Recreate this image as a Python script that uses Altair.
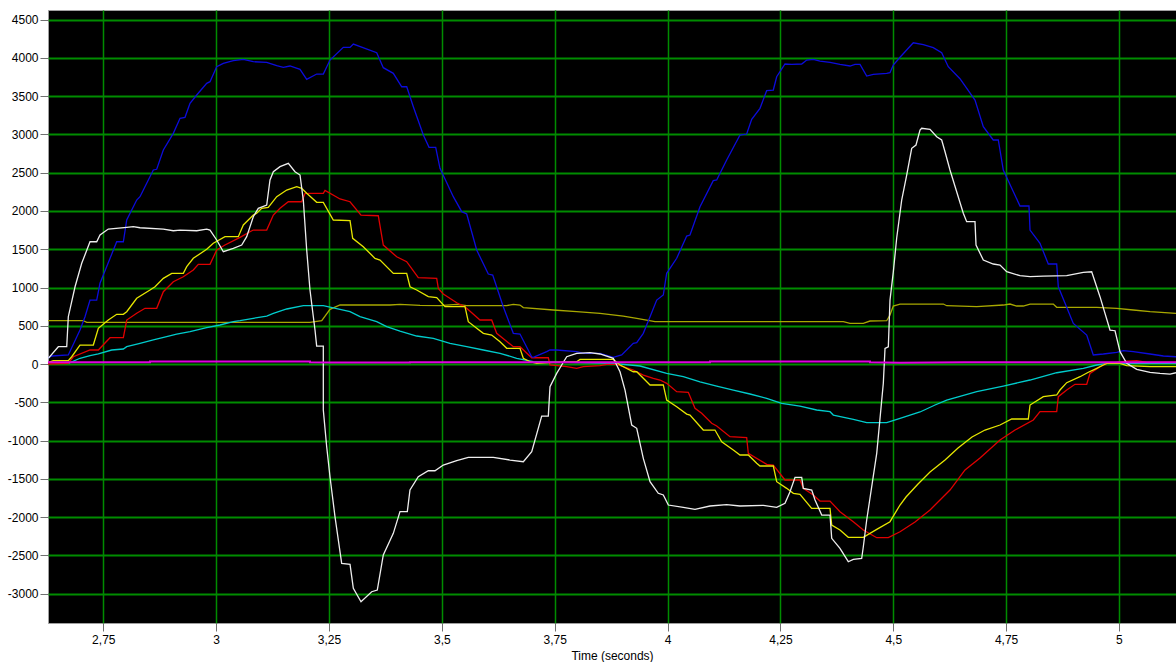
import altair as alt
import pandas as pd

X_TICKS = [2.75, 3.0, 3.25, 3.5, 3.75, 4.0, 4.25, 4.5, 4.75, 5.0]
Y_TICKS = list(range(-3000, 4501, 500))
X_DOMAIN = [2.6275, 5.1264]
Y_DOMAIN = [-3385, 4627]

OLIVE = [(2.6275, 566), (2.7057, 566), (2.7133, 545), (3.2079, 545), (3.2339, 566), (3.2522, 715),
         (3.2744, 771), (3.3852, 771), (3.4073, 780), (3.4516, 767), (3.4959, 763), (3.5329, 780),
         (3.5551, 763), (3.6437, 763), (3.6583, 780), (3.6731, 771), (3.6805, 737), (3.7470, 706),
         (3.7987, 684), (3.8504, 662), (3.9020, 627), (3.9317, 597), (3.9722, 553), (4.3894, 553),
         (4.4042, 532), (4.4337, 532), (4.4485, 562), (4.4855, 566), (4.4928, 641), (4.5001, 758),
         (4.5150, 784), (4.6110, 784), (4.6184, 762), (4.6849, 749), (4.7438, 771), (4.7586, 784),
         (4.7734, 758), (4.7881, 758), (4.8030, 784), (4.8546, 784), (4.8621, 741), (4.9507, 741),
         (4.9951, 728), (5.0319, 706), (5.0689, 684), (5.1264, 662)]

CYAN = [(2.6725, 9), (2.6984, 75), (2.7206, 109), (2.7390, 131), (2.7686, 183), (2.7944, 196),
        (2.8019, 226), (2.8313, 271), (2.8608, 314), (2.8904, 357), (2.9126, 392), (2.9421, 422),
        (2.9791, 475), (3.0086, 510), (3.0380, 553), (3.0529, 566), (3.0823, 597), (3.1120, 627),
        (3.1267, 662), (3.1563, 719), (3.1932, 762), (3.2374, 762), (3.2744, 715), (3.2966, 684),
        (3.3187, 619), (3.3557, 553), (3.3778, 488), (3.4073, 431), (3.4442, 366), (3.4811, 336),
        (3.5181, 270), (3.5551, 226), (3.5919, 183), (3.6289, 140), (3.6658, 75), (3.7026, 30),
        (3.8798, 9), (3.9390, -26), (3.9981, -122), (4.0349, -166), (4.0719, -232), (4.1089, -288),
        (4.1457, -340), (4.1826, -392), (4.2196, -449), (4.2528, -514), (4.2934, -549), (4.3304, -601),
        (4.3599, -623), (4.3673, -667), (4.4116, -723), (4.4412, -767), (4.4855, -767), (4.5150, -710),
        (4.5593, -627), (4.5926, -536), (4.6184, -471), (4.6849, -362), (4.7438, -288), (4.8030, -209),
        (4.8621, -114), (4.9211, -56), (4.9507, -13), (4.9729, 9), (5.0024, 9), (5.1264, 10)]

RED = [(2.6275, 0), (2.6725, 9), (2.6836, 95), (2.7206, 183), (2.7390, 183), (2.7649, 344),
       (2.7944, 344), (2.8019, 575), (2.8240, 663), (2.8424, 728), (2.8683, 728), (2.8830, 945),
       (2.9051, 1076), (2.9273, 1141), (2.9494, 1229), (2.9605, 1303), (2.9864, 1303), (3.0012, 1490),
       (3.0196, 1555), (3.0529, 1656), (3.0750, 1729), (3.0823, 1751), (3.1120, 1751), (3.1267, 1947),
       (3.1415, 2035), (3.1599, 2121), (3.1895, 2121), (3.1969, 2230), (3.2374, 2230), (3.2412, 2268),
       (3.2744, 2157), (3.2966, 2121), (3.3209, 1947), (3.3592, 1938), (3.3703, 1555), (3.4000, 1402),
       (3.4221, 1337), (3.4478, 1128), (3.4886, 1120), (3.4922, 989), (3.5032, 915), (3.5329, 801),
       (3.5513, 749), (3.5845, 575), (3.6104, 575), (3.6215, 401), (3.6399, 314), (3.6583, 226),
       (3.6731, 226), (3.6990, 82), (3.7359, 82), (3.7396, -13), (3.7766, -35), (3.7987, -56),
       (3.8134, -35), (3.8504, -22), (3.8652, -4), (3.8874, -4), (3.9241, -78), (3.9463, -144),
       (3.9685, -187), (3.9833, -209), (3.9981, -252), (4.0203, -362), (4.0460, -370), (4.0608, -579),
       (4.0756, -644), (4.0978, -775), (4.1089, -810), (4.1383, -950), (4.1753, -963), (4.1789, -1167),
       (4.2196, -1311), (4.2343, -1320), (4.2602, -1516), (4.2934, -1516), (4.3008, -1625),
       (4.3229, -1712), (4.3377, -1791), (4.3599, -1791), (4.3820, -1930), (4.4115, -2061),
       (4.4337, -2170), (4.4634, -2270), (4.4891, -2270), (4.5150, -2192), (4.5482, -2065),
       (4.5815, -1908), (4.6036, -1778), (4.6257, -1647), (4.6590, -1385), (4.6922, -1229),
       (4.7365, -993), (4.7698, -863), (4.8103, -732), (4.8251, -623), (4.8621, -623), (4.8657, -427),
       (4.8843, -340), (4.9027, -265), (4.9286, -265), (4.9359, -122), (4.9580, -35), (4.9729, 9),
       (4.9951, 22), (5.0172, 39), (5.0394, 43), (5.0616, 22), (5.1264, 22)]

YELLOW = [(2.6282, 22), (2.6393, 43), (2.6725, 43), (2.6800, 95), (2.6984, 248), (2.7279, 248),
          (2.7390, 467), (2.7611, 575), (2.7797, 650), (2.7944, 650), (2.8019, 684), (2.8240, 859),
          (2.8535, 967), (2.8646, 1010), (2.8830, 1120), (2.9016, 1185), (2.9273, 1185), (2.9348, 1272),
          (2.9494, 1382), (2.9791, 1499), (2.9937, 1578), (3.0196, 1664), (3.0491, 1664), (3.0602, 1817),
          (3.0823, 1947), (3.0898, 1970), (3.1009, 2035), (3.1155, 2048), (3.1342, 2187), (3.1563, 2274),
          (3.1785, 2317), (3.1895, 2296), (3.2006, 2231), (3.2228, 2113), (3.2374, 2113), (3.2596, 1882),
          (3.2966, 1873), (3.3025, 1643), (3.3260, 1533), (3.3519, 1381), (3.3630, 1359), (3.3925, 1185),
          (3.4221, 1185), (3.4295, 1010), (3.4443, 967), (3.4700, 880), (3.4886, 867), (3.5070, 749),
          (3.5513, 749), (3.5586, 553), (3.5772, 467), (3.5919, 401), (3.6104, 379), (3.6289, 291),
          (3.6437, 205), (3.6731, 205), (3.6805, 75), (3.6953, 30), (3.7101, 9), (3.7463, 22),
          (3.7987, 30), (3.8061, 61), (3.8798, 61), (3.8947, -13), (3.9241, -101), (3.9317, -101),
          (3.9463, -187), (3.9612, -274), (3.9906, -274), (3.9981, -471), (4.0203, -558), (4.0424, -654),
          (4.0497, -667), (4.0792, -863), (4.1051, -863), (4.1200, -1016), (4.1457, -1124), (4.1605, -1189),
          (4.1789, -1189), (4.1975, -1298), (4.2048, -1333), (4.2343, -1333), (4.2418, -1538),
          (4.2640, -1625), (4.2787, -1690), (4.2934, -1703), (4.3193, -1886), (4.3599, -1886),
          (4.3637, -2104), (4.3820, -2170), (4.4004, -2265), (4.4337, -2265), (4.4634, -2161),
          (4.4928, -2061), (4.5150, -1843), (4.5283, -1738), (4.5549, -1568), (4.5815, -1412),
          (4.6147, -1255), (4.6435, -1098), (4.6745, -954), (4.7033, -863), (4.7365, -797), (4.7624, -719),
          (4.7992, -719), (4.8030, -536), (4.8325, -427), (4.8621, -405), (4.8694, -340), (4.8843, -244),
          (4.9138, -166), (4.9322, -108), (4.9508, -56), (4.9654, -13), (4.9729, 9), (5.0024, 9),
          (5.0172, -20), (5.0689, -35), (5.1264, -35)]

BLUE = [(2.6275, 78), (2.6364, 105), (2.6725, 118), (2.6984, 444), (2.7095, 618), (2.7206, 836),
        (2.7354, 836), (2.7427, 1055), (2.7797, 1598), (2.7944, 1598), (2.8019, 1882), (2.8240, 2143),
        (2.8313, 2187), (2.8387, 2274), (2.8608, 2536), (2.8683, 2545), (2.8830, 2797), (2.9051, 3015),
        (2.9200, 3211), (2.9310, 3224), (2.9421, 3407), (2.9569, 3516), (2.9791, 3669), (2.9864, 3690),
        (3.0012, 3886), (3.0159, 3930), (3.0380, 3964), (3.0602, 3982), (3.0823, 3951), (3.1120, 3943),
        (3.1342, 3899), (3.1488, 3878), (3.1636, 3895), (3.1858, 3852), (3.2006, 3721), (3.2228, 3790),
        (3.2374, 3790), (3.2522, 3973), (3.2817, 4139), (3.2966, 4139), (3.3039, 4182), (3.3557, 4069),
        (3.3703, 3873), (3.3925, 3799), (3.4111, 3624), (3.4222, 3624), (3.4368, 3363), (3.4590, 2993),
        (3.4716, 2832), (3.4864, 2832), (3.4959, 2558), (3.5254, 2187), (3.5440, 1991), (3.5551, 1961),
        (3.5772, 1490), (3.6029, 1176), (3.6127, 1163), (3.6361, 749), (3.6583, 401), (3.6731, 392),
        (3.6990, 95), (3.7026, 88), (3.7323, 161), (3.7396, 183), (3.7544, 183), (3.7987, 161),
        (3.8134, 140), (3.8504, 140), (3.8798, 88), (3.8984, 118), (3.9241, 271), (3.9317, 278),
        (3.9463, 401), (3.9612, 618), (3.9760, 836), (3.9906, 902), (3.9981, 1185), (4.0203, 1382),
        (4.0424, 1673), (4.0497, 1686), (4.0719, 2056), (4.1013, 2396), (4.1089, 2405), (4.1310, 2666),
        (4.1605, 2993), (4.1753, 3006), (4.1864, 3198), (4.2048, 3342), (4.2196, 3572), (4.2343, 3581),
        (4.2418, 3755), (4.2602, 3921), (4.2750, 3917), (4.2972, 3921), (4.3083, 3973), (4.3229, 3982),
        (4.3377, 3960), (4.3599, 3943), (4.3820, 3917), (4.4042, 3895), (4.4153, 3917), (4.4264, 3917),
        (4.4412, 3764), (4.4558, 3786), (4.4855, 3799), (4.4928, 3807), (4.5001, 3908), (4.5150, 4009),
        (4.5444, 4199), (4.5666, 4173), (4.5887, 4134), (4.6073, 4069), (4.6219, 3886), (4.6478, 3729),
        (4.6811, 3450), (4.6995, 3102), (4.7216, 2928), (4.7327, 2928), (4.7438, 2536), (4.7808, 2065),
        (4.8007, 2065), (4.8030, 1751), (4.8251, 1578), (4.8435, 1307), (4.8621, 1307), (4.8657, 1010),
        (4.8989, 531), (4.9286, 379), (4.9432, 118), (4.9654, 131), (4.9951, 153), (5.0097, 174),
        (5.0319, 161), (5.0689, 131), (5.0984, 105), (5.1264, 95)]

WHITE = [(2.6282, 75), (2.6504, 226), (2.6690, 226), (2.6725, 618), (2.6874, 1010), (2.7022, 1316),
         (2.7206, 1598), (2.7354, 1598), (2.7427, 1686), (2.7611, 1764), (2.8019, 1787), (2.8165, 1795),
         (2.8313, 1781), (2.8830, 1764), (2.9051, 1742), (2.9200, 1751), (2.9569, 1742), (2.9791, 1764),
         (2.9864, 1751), (3.0012, 1621), (3.0159, 1468), (3.0380, 1512), (3.0566, 1555), (3.0677, 1664),
         (3.0823, 1925), (3.0934, 2035), (3.1120, 2078), (3.1193, 2405), (3.1267, 2513), (3.1415, 2579),
         (3.1599, 2623), (3.1747, 2513), (3.1858, 2470), (3.1931, 2143), (3.2006, 1490), (3.2079, 967),
         (3.2153, 618), (3.2190, 444), (3.2227, 235), (3.2374, 235), (3.2374, -601), (3.2449, -1081),
         (3.2522, -1473), (3.2633, -1996), (3.2781, -2605), (3.2966, -2618), (3.3039, -2932),
         (3.3209, -3107), (3.3446, -2976), (3.3570, -2954), (3.3703, -2496), (3.3925, -2213),
         (3.4073, -1930), (3.4235, -1930), (3.4294, -1647), (3.4478, -1473), (3.4700, -1395),
         (3.4848, -1395), (3.5032, -1320), (3.5329, -1264), (3.5586, -1219), (3.6140, -1219),
         (3.6510, -1255), (3.6805, -1277), (3.6991, -1146), (3.7212, -680), (3.7359, -680),
         (3.7396, -297), (3.7544, -122), (3.7655, -13), (3.7766, 95), (3.7987, 140), (3.8282, 148),
         (3.8504, 131), (3.8798, 75), (3.8947, -101), (3.9058, -340), (3.9206, -797), (3.9317, -840),
         (3.9463, -1233), (3.9612, -1538), (3.9795, -1690), (3.9906, -1712), (4.0017, -1843),
         (4.0349, -1873), (4.0608, -1899), (4.0941, -1856), (4.1310, -1839), (4.1605, -1856),
         (4.2121, -1847), (4.2418, -1873), (4.2602, -1821), (4.2713, -1669), (4.2824, -1481),
         (4.2972, -1481), (4.3008, -1625), (4.3194, -1647), (4.3267, -1778), (4.3416, -1974),
         (4.3599, -1974), (4.3637, -2278), (4.3820, -2409), (4.4004, -2584), (4.4115, -2553),
         (4.4301, -2540), (4.4337, -2388), (4.4412, -2039), (4.4634, -1167), (4.4780, -252),
         (4.4818, 205), (4.4891, 226), (4.4928, 836), (4.5001, 1200), (4.5077, 1650), (4.5187, 2143),
         (4.5298, 2470), (4.5409, 2819), (4.5504, 2862), (4.5593, 3058), (4.5630, 3081), (4.5814, 3068),
         (4.5963, 2971), (4.6073, 2928), (4.6147, 2775), (4.6257, 2536), (4.6552, 1970), (4.6627, 1860),
         (4.6811, 1860), (4.6834, 1555), (4.6995, 1359), (4.7216, 1307), (4.7365, 1294), (4.7513, 1206),
         (4.7808, 1154), (4.8030, 1141), (4.8325, 1150), (4.8843, 1154), (4.9211, 1199), (4.9396, 1206),
         (4.9580, 880), (4.9802, 444), (4.9913, 435), (5.0024, 161), (5.0172, 9), (5.0394, -69),
         (5.0689, -108), (5.0910, -122), (5.1132, -131), (5.1264, -114)]

MAGENTA = [(2.6275, 22), (2.8535, 22), (2.8535, 32), (3.2079, 32), (3.2079, 22), (3.2522, 20),
           (3.4294, 20), (3.4294, 24), (4.0941, 24), (4.0941, 32), (4.4485, 32), (4.4485, 22),
           (4.5150, 18), (4.6568, 22), (5.1264, 24)]

SERIES = [
    ("olive", OLIVE, "#a8a800", 1.3),
    ("cyan", CYAN, "#00cccc", 1.3),
    ("red", RED, "#e00000", 1.3),
    ("yellow", YELLOW, "#e6e600", 1.3),
    ("blue", BLUE, "#0c0cdc", 1.3),
    ("white", WHITE, "#eeeeee", 1.3),
    ("magenta", MAGENTA, "#e000e0", 2.0),
]

rows = []
for name, pts, _, _ in SERIES:
    for i, (t, v) in enumerate(pts):
        rows.append({"series": name, "idx": i, "t": t, "v": v})
df = pd.DataFrame(rows)

x_enc = alt.X(
    "t:Q",
    scale=alt.Scale(domain=X_DOMAIN, nice=False, zero=False),
    axis=alt.Axis(
        values=X_TICKS,
        title="Time (seconds)",
        labelExpr="replace(format(datum.value, '.3~f'), '.', ',')",
    ),
)
y_enc = alt.Y(
    "v:Q",
    scale=alt.Scale(domain=Y_DOMAIN, nice=False, zero=False),
    axis=alt.Axis(values=Y_TICKS, title="", labelExpr="'' + datum.value"),
)

layers = []
for name, _, color, sw in SERIES:
    layers.append(
        alt.Chart(df)
        .transform_filter(alt.datum.series == name)
        .mark_line(color=color, strokeWidth=sw, clip=True)
        .encode(x=x_enc, y=y_enc, order="idx:Q")
    )

chart = (
    alt.layer(*layers)
    .properties(
        width=1128,
        height=613,
        autosize=alt.AutoSizeParams(type="none"),
        padding={"left": 48, "top": 10, "right": 0, "bottom": 39},
        background="white",
    )
    .configure_view(fill="black", stroke="#a0a0a0", strokeWidth=1)
    .configure_axis(
        grid=True,
        gridColor="#008c00",
        domain=False,
        tickColor="#707070",
        tickSize=8,
        labelFont="Liberation Sans",
        labelFontSize=12,
        labelColor="#000000",
        titleFont="Liberation Sans",
        titleFontSize=12,
        titleFontWeight="normal",
        titleColor="#000000",
    )
    .configure_axisX(gridWidth=1.5, labelPadding=3, titlePadding=5)
    .configure_axisY(gridWidth=2, labelPadding=2)
)

chart.save("out.html", embed_options={"renderer": "svg", "actions": False})
